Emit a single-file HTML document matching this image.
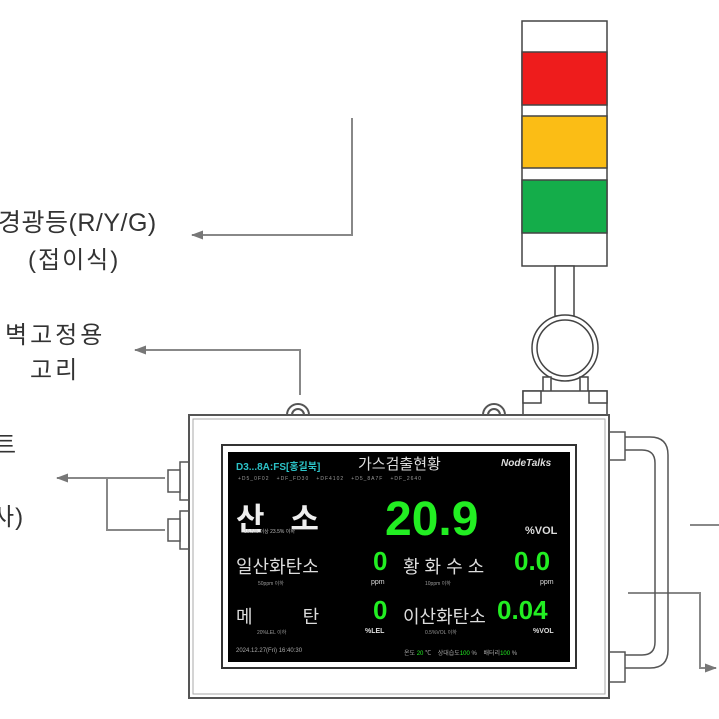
<!DOCTYPE html>
<html><head><meta charset="utf-8">
<style>
body{margin:0;background:#fff;}
.wrap{position:relative;width:719px;height:719px;overflow:hidden;font-family:"Liberation Sans","Noto Sans CJK KR",sans-serif;}
.t{position:absolute;white-space:nowrap;color:#222;}
.lb{font-size:24px;letter-spacing:1px;color:#333;}
</style></head><body><div class="wrap">
<svg width="719" height="719" style="position:absolute;left:0;top:0">
<defs><marker id="ah" markerWidth="12" markerHeight="9" refX="11" refY="4.5" orient="auto" markerUnits="userSpaceOnUse"><path d="M0,0 L12,4.5 L0,9 z" fill="#777"/></marker></defs>
<g stroke="#888" stroke-width="2" fill="none">
<polyline points="352,118 352,235 192,235" marker-end="url(#ah)"/>
<polyline points="300,395 300,350 135,350" marker-end="url(#ah)"/>
<polyline points="165,478 57,478" marker-end="url(#ah)"/>
<polyline points="107,478 107,530 165,530"/>
<polyline points="690,525 719,525"/>
<polyline points="628,593 700,593 700,668 716,668" marker-end="url(#ah)"/>
</g>
<g stroke="#444" stroke-width="1.5">
<rect x="522" y="21" width="85" height="245" fill="#fff"/>
<rect x="522" y="52" width="85" height="53" fill="#ee1c1c"/>
<rect x="522" y="116" width="85" height="52" fill="#fbbd15"/>
<rect x="522" y="180" width="85" height="53" fill="#14ad4a"/>
<rect x="555" y="266" width="19" height="50" fill="#fff"/>
<circle cx="565" cy="348" r="33" fill="#fff"/>
<circle cx="565" cy="348" r="28" fill="#fff"/>
<rect x="543" y="377" width="8" height="15" fill="#fff"/>
<rect x="580" y="377" width="8" height="15" fill="#fff"/>
<rect x="523" y="391" width="84" height="24" fill="#fff"/>
<rect x="523" y="391" width="18" height="12" fill="#fff"/>
<rect x="589" y="391" width="18" height="12" fill="#fff"/>
</g>
<g stroke="#555" stroke-width="2" fill="#fff">
<path d="M287,415 A11,11 0 0 1 309,415"/><path d="M292,415 A6,6 0 0 1 304,415"/>
<path d="M483,415 A11,11 0 0 1 505,415"/><path d="M488,415 A6,6 0 0 1 500,415"/>
</g>
<g stroke="#555" stroke-width="1.5" fill="none">
<path d="M625,437 L650,437 Q668,437 668,455 L668,650 Q668,668 650,668 L625,668"/>
<path d="M625,450 L642,450 Q655,450 655,463 L655,642 Q655,655 642,655 L625,655"/>
</g>
<g stroke="#555" stroke-width="1.5" fill="#fff">
<rect x="609" y="432" width="16" height="28"/><rect x="609" y="652" width="16" height="30"/>
<rect x="180" y="462" width="9" height="38"/><rect x="168" y="470" width="12" height="22"/>
<rect x="180" y="511" width="9" height="38"/><rect x="168" y="519" width="12" height="22"/>
</g>
<rect x="189" y="415" width="420" height="283" fill="#fff" stroke="#555" stroke-width="2"/>
<rect x="193" y="419" width="412" height="275" fill="none" stroke="#aaa" stroke-width="1"/>
<rect x="222" y="445" width="354" height="223" fill="#fff" stroke="#333" stroke-width="2"/>
<rect x="228" y="452" width="342" height="210" fill="#000"/>
</svg>
<div class="t lb" style="left:-2px;top:203px;font-size:25px;letter-spacing:0.5px;">경광등(R/Y/G)</div>
<div class="t lb" style="left:28px;top:240px;letter-spacing:2px;">(접이식)</div>
<div class="t lb" style="left:5px;top:315px;letter-spacing:3px;">벽고정용</div>
<div class="t lb" style="left:30px;top:350px;letter-spacing:3px;">고리</div>
<div class="t lb" style="left:-6px;top:425px;">트</div>
<div class="t lb" style="left:-8px;top:461px;">)</div>
<div class="t lb" style="left:-8px;top:497px;">사)</div>
<div class="t" style="left:236px;top:458px;font-size:10px;font-weight:bold;color:#2cc3c8;">D3...8A:FS[홍길북]</div>
<div class="t" style="left:358px;top:453px;font-size:15px;color:#ddd;">가스검출현황</div>
<div class="t" style="left:501px;top:458px;font-size:10px;font-weight:bold;font-style:italic;color:#ddd;">NodeTalks</div>
<div class="t" style="left:238px;top:476px;font-size:5px;color:#999;letter-spacing:1px;">+D5_0F02 &nbsp; +DF_FD30 &nbsp; +DF4102 &nbsp; +D5_8A7F &nbsp; +DF_2640</div>
<div class="t" style="left:236px;top:494px;font-size:31px;color:#eee;font-weight:bold;">산&nbsp;&nbsp;&nbsp;소</div>
<div class="t" style="left:244px;top:528px;font-size:5px;color:#bbb;">19.5% 이상 23.5% 이하</div>
<div class="t" style="left:385px;top:492px;font-size:48px;color:#22ee22;font-weight:bold;">20.9</div>
<div class="t" style="left:525px;top:525px;font-size:11px;color:#ddd;font-weight:bold;">%VOL</div>
<div class="t" style="left:236px;top:553px;font-size:18px;color:#ddd;">일산화탄소</div>
<div class="t" style="left:373px;top:546px;font-size:26px;color:#22ee22;font-weight:bold;">0</div>
<div class="t" style="left:403px;top:553px;font-size:18px;color:#ddd;">황 화 수 소</div>
<div class="t" style="left:514px;top:546px;font-size:26px;color:#22ee22;font-weight:bold;">0.0</div>
<div class="t" style="left:371px;top:579px;font-size:7px;color:#ddd;">ppm</div>
<div class="t" style="left:540px;top:579px;font-size:7px;color:#ddd;">ppm</div>
<div class="t" style="left:258px;top:580px;font-size:5px;color:#999;">50ppm 이하</div>
<div class="t" style="left:425px;top:580px;font-size:5px;color:#999;">10ppm 이하</div>
<div class="t" style="left:236px;top:603px;font-size:18px;color:#ddd;">메&nbsp;&nbsp;&nbsp;&nbsp;&nbsp;&nbsp;&nbsp;&nbsp;&nbsp;&nbsp;탄</div>
<div class="t" style="left:373px;top:595px;font-size:26px;color:#22ee22;font-weight:bold;">0</div>
<div class="t" style="left:403px;top:603px;font-size:18px;color:#ddd;">이산화탄소</div>
<div class="t" style="left:497px;top:595px;font-size:26px;color:#22ee22;font-weight:bold;">0.04</div>
<div class="t" style="left:365px;top:628px;font-size:7px;color:#ddd;font-weight:bold;">%LEL</div>
<div class="t" style="left:533px;top:628px;font-size:7px;color:#ddd;font-weight:bold;">%VOL</div>
<div class="t" style="left:257px;top:629px;font-size:5px;color:#999;">20%LEL 이하</div>
<div class="t" style="left:425px;top:629px;font-size:5px;color:#999;">0.5%VOL 이하</div>
<div class="t" style="left:236px;top:648px;font-size:6px;color:#aaa;">2024.12.27(Fri) 16:40:30</div>
<div class="t" style="left:404px;top:648px;font-size:6px;color:#aaa;">온도 <span style="color:#2e2">20</span> ℃ &nbsp;&nbsp; 상대습도<span style="color:#2e2">100</span> % &nbsp;&nbsp; 배터리<span style="color:#2e2">100</span> %</div>
</div></body></html>
